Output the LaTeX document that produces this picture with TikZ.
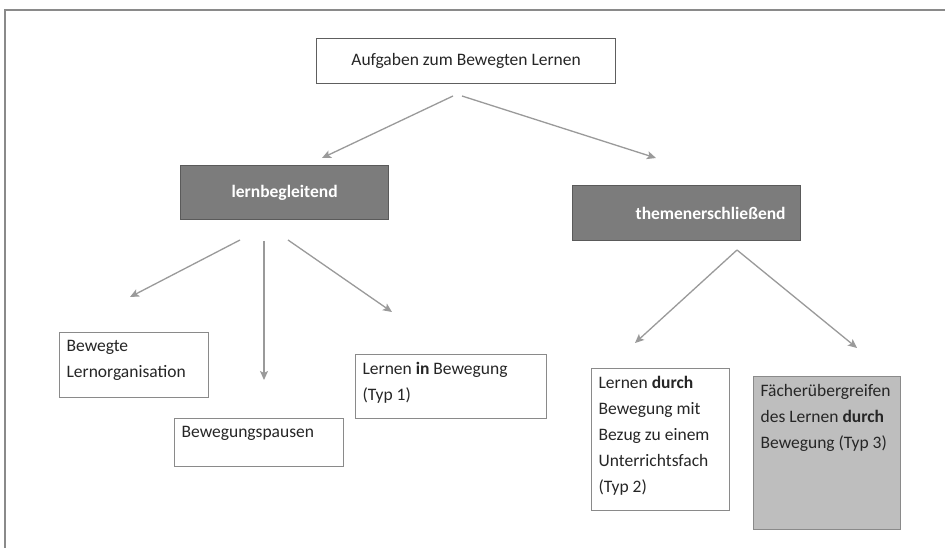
\documentclass[tikz,border=0pt]{standalone}
\usepackage{fontspec}
\setmainfont{Carlito}
\usetikzlibrary{arrows.meta}
\definecolor{arrowgray}{HTML}{9A9A9A}
\definecolor{boxgray}{HTML}{8A8A8A}
\definecolor{topedge}{HTML}{5E5E5E}
\definecolor{catfill}{HTML}{7C7C7C}
\definecolor{catedge}{HTML}{5A5A5A}
\definecolor{lightfill}{HTML}{BEBEBE}
\definecolor{txtgray}{HTML}{262626}
\newcommand\leafpar[3]{\parbox[c][#2][t]{#1}{\raggedright #3}}
\tikzset{
  conn/.style={draw=arrowgray, line width=1.3pt, -{Stealth[length=9pt,width=8pt,inset=2pt]}},
  leaf/.style={draw=boxgray, line width=1.2pt, fill=white, anchor=north west,
    inner xsep=7pt, inner ysep=8pt, text=txtgray, font=\fontsize{17.5}{26}\selectfont},
  shaded/.style={leaf, fill=lightfill},
  cat/.style={draw=catedge, fill=catfill, line width=1.2pt, anchor=north west, inner sep=0pt,
    text=white, font=\fontsize{17.5}{20}\selectfont\bfseries},
  rootbox/.style={draw=topedge, line width=1.2pt, fill=white, anchor=north west, inner sep=0pt,
    text=txtgray, font=\fontsize{17.5}{20}\selectfont},
  frameline/.style={draw=boxgray, line width=1.5pt}
}
\begin{document}
\begin{tikzpicture}[x=1pt,y=-1pt]
\useasboundingbox (0,0) rectangle (945,548);
\fill[white] (0,0) rectangle (945,548);
\draw[frameline] (5,548) -- (5,10) -- (945,10);

\node[rootbox, minimum width=299pt, minimum height=45pt] (root) at (316,38) {Aufgaben zum Bewegten Lernen};

\node[cat, minimum width=208pt, minimum height=54pt] (lb) at (180,165) {lernbegleitend};
\node[cat, minimum width=228pt, minimum height=55pt, text width=198pt, align=right] (te) at (572,185) {themenerschließend};

\node[leaf] (lo) at (59,332) {\leafpar{135pt}{49pt}{Bewegte\\Lernorganisation}};
\node[leaf] (pa) at (174,418) {\leafpar{155pt}{32pt}{Bewegungspausen}};
\node[leaf] (t1) at (355,354) {\leafpar{177pt}{48pt}{Lernen \textbf{in} Bewegung\\(Typ 1)}};
\node[leaf] (t2) at (591,368) {\leafpar{124pt}{126pt}{Lernen \textbf{durch}\\Bewegung mit\\Bezug zu einem\\Unterrichtsfach\\(Typ 2)}};
\node[shaded] (t3) at (753,376) {\leafpar{133pt}{137pt}{Fächerübergreifen\\des Lernen \textbf{durch}\\Bewegung (Typ 3)}};

\coordinate (r1) at (453,96);
\coordinate (r2) at (462,96);
\coordinate (lbend) at (322,158);
\coordinate (teend) at (656,158);
\coordinate (b1) at (240,240);
\coordinate (b2) at (264,241);
\coordinate (b3) at (288,240);
\coordinate (loend) at (130,297);
\coordinate (paend) at (264,380);
\coordinate (t1end) at (392,312);
\coordinate (tapex) at (737,250);
\coordinate (t2end) at (635,343);
\coordinate (t3end) at (857,348);

\draw[conn] (r1) -- (lbend);
\draw[conn] (r2) -- (teend);
\draw[conn] (b1) -- (loend);
\draw[conn] (b2) -- (paend);
\draw[conn] (b3) -- (t1end);
\draw[conn] (tapex) -- (t2end);
\draw[conn] (tapex) -- (t3end);
\end{tikzpicture}
\end{document}
